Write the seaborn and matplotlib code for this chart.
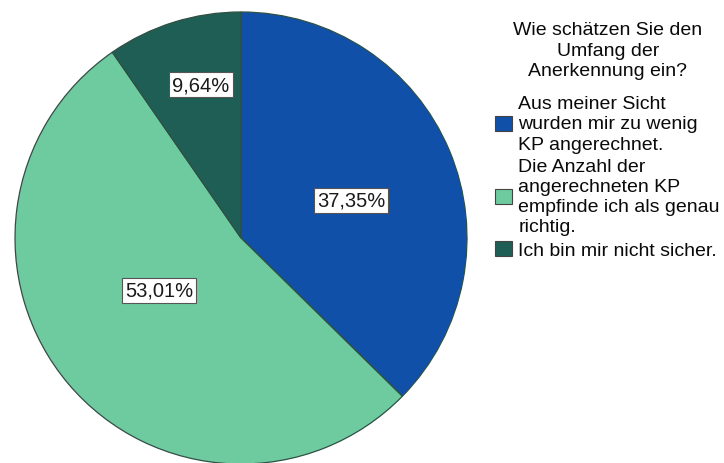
import numpy as np
import matplotlib
matplotlib.use("Agg")
import matplotlib.pyplot as plt
import seaborn as sns

categories = [
    "Aus meiner Sicht\nwurden mir zu wenig\nKP angerechnet.",
    "Die Anzahl der\nangerechneten KP\nempfinde ich als genau\nrichtig.",
    "Ich bin mir nicht sicher.",
]
values = [37.35, 53.01, 9.64]
legend_title = "Wie schätzen Sie den\nUmfang der\nAnerkennung ein?"

colors = ["#1050A8", "#6ECBA0", "#1F5E54"]
label_radius = [0.515, 0.43, 0.70]
label_angle_shift = [-3.8, -7.7, -2.7]

sns.set_theme(style="white")
plt.rcParams["font.family"] = ["Liberation Sans", "DejaVu Sans"]

fig = plt.figure(figsize=(7.24, 4.64), dpi=100)
R = 226
cx, cy = 241, 239
ax = fig.add_axes([(cx - R) / 724, (464 - cy - R) / 464, 2 * R / 724, 2 * R / 464])

wedges, _ = ax.pie(values, colors=colors, startangle=90, counterclock=False,
                   wedgeprops=dict(edgecolor="#2F4F45", linewidth=0.9),
                   radius=1.0)
ax.set_xlim(-1.0, 1.0)
ax.set_ylim(-1.0, 1.0)
ax.set_aspect("equal")
ax.axis("off")

for w, v, r, s in zip(wedges, values, label_radius, label_angle_shift):
    ang = np.deg2rad((w.theta1 + w.theta2) / 2 + s)
    ax.text(r * np.cos(ang), r * np.sin(ang), f"{v:.2f}".replace(".", ",") + "%",
            ha="center", va="center", fontsize=14.5, color="#1a1a1a",
            bbox=dict(boxstyle="square,pad=0.15", facecolor="white",
                      edgecolor="#555555", linewidth=0.8))

fig.text(608 / 724, 1 - 22 / 464, legend_title, ha="center", va="top",
         fontsize=14, color="#0a0a0a", linespacing=1.27, multialignment="center")

leg = fig.legend(wedges, categories,
                 loc="upper left", bbox_to_anchor=(495 / 724, 1 - 96 / 464),
                 frameon=False, fontsize=14,
                 handlelength=0.85, handleheight=0.85, handletextpad=0.35,
                 labelspacing=0.27, borderaxespad=0, borderpad=0)
for t in leg.get_texts():
    t.set_linespacing(1.25)
    t.set_color("#0a0a0a")
for h in leg.legend_handles:
    h.set_edgecolor("#444444")
    h.set_linewidth(0.8)

fig.savefig("out.png", dpi=100, facecolor="white")
